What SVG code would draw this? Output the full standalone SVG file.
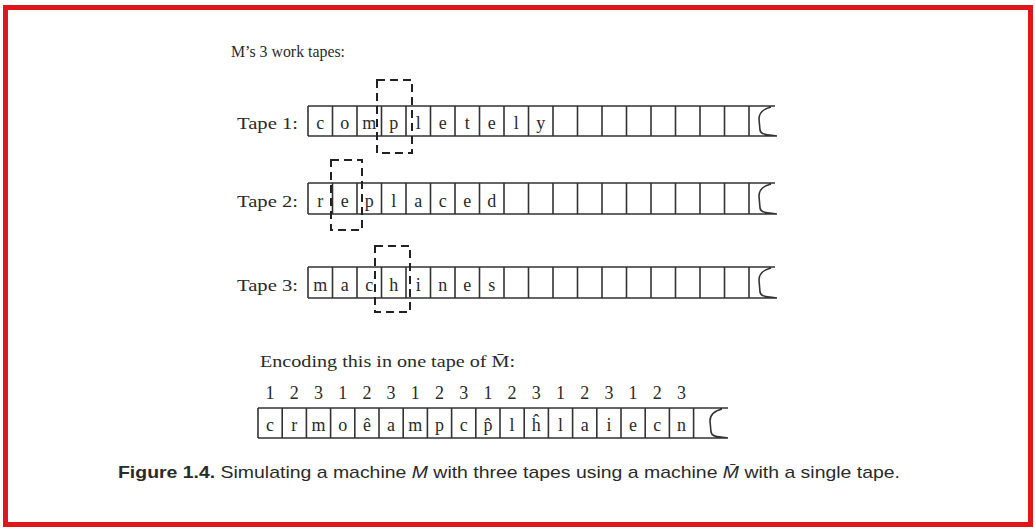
<svg xmlns="http://www.w3.org/2000/svg" width="1035" height="529" viewBox="0 0 1035 529">
<style>
.t{font-family:"Liberation Serif","Times New Roman",serif;font-size:17px;fill:#2a2a2a}
.c{font-family:"Liberation Serif","Times New Roman",serif;font-size:18px;fill:#2a2a2a;text-anchor:middle}
.tape{fill:none;stroke:#333;stroke-width:1.6}
.head{fill:none;stroke:#222;stroke-width:2;stroke-dasharray:8 5}
.cap{font-family:"Liberation Sans","Noto Sans",sans-serif;font-size:17px;fill:#2a2a2a}
</style>
<rect x="0" y="0" width="1035" height="529" fill="#fff"/>
<rect x="5.5" y="7.5" width="1025" height="517" fill="none" stroke="#e0161b" stroke-width="5"/>

<text class="t" x="231" y="57" textLength="114" lengthAdjust="spacingAndGlyphs">M’s 3 work tapes:</text>

<g id="tape1">
<text class="t" x="237" y="129" font-size="18" textLength="61" lengthAdjust="spacingAndGlyphs">Tape 1:</text>
<path class="tape" d="M308 106H775M308 136H777M308 106V136M332.5 106V136M357 106V136M381.5 106V136M406 106V136M430.5 106V136M455 106V136M479.5 106V136M504 106V136M528.5 106V136M553 106V136M577.5 106V136M602 106V136M626.5 106V136M651 106V136M675.5 106V136M700 106V136M724.5 106V136M749 106V136M771 107Q759 110 759 119L760 130Q761 135 770 135L777 136"/>
<g class="c"><text x="320.3" y="129">c</text><text x="344.8" y="129">o</text><text x="369.3" y="129">m</text><text x="393.8" y="129">p</text><text x="418.3" y="129">l</text><text x="442.8" y="129">e</text><text x="467.3" y="129">t</text><text x="491.8" y="129">e</text><text x="516.3" y="129">l</text><text x="540.8" y="129">y</text></g>
<rect class="head" x="377" y="80" width="35" height="73"/>
</g>

<g id="tape2">
<text class="t" x="237" y="207" font-size="18" textLength="61" lengthAdjust="spacingAndGlyphs">Tape 2:</text>
<path class="tape" d="M308 183H775M308 214H777M308 183V214M332.5 183V214M357 183V214M381.5 183V214M406 183V214M430.5 183V214M455 183V214M479.5 183V214M504 183V214M528.5 183V214M553 183V214M577.5 183V214M602 183V214M626.5 183V214M651 183V214M675.5 183V214M700 183V214M724.5 183V214M749 183V214M771 184Q759 187 759 196L760 208Q761 213 770 213L777 214"/>
<g class="c"><text x="320.3" y="207">r</text><text x="344.8" y="207">e</text><text x="369.3" y="207">p</text><text x="393.8" y="207">l</text><text x="418.3" y="207">a</text><text x="442.8" y="207">c</text><text x="467.3" y="207">e</text><text x="491.8" y="207">d</text></g>
<rect class="head" x="331" y="160" width="31" height="70"/>
</g>

<g id="tape3">
<text class="t" x="237" y="291" font-size="18" textLength="61" lengthAdjust="spacingAndGlyphs">Tape 3:</text>
<path class="tape" d="M308 267H775M308 298H777M308 267V298M332.5 267V298M357 267V298M381.5 267V298M406 267V298M430.5 267V298M455 267V298M479.5 267V298M504 267V298M528.5 267V298M553 267V298M577.5 267V298M602 267V298M626.5 267V298M651 267V298M675.5 267V298M700 267V298M724.5 267V298M749 267V298M771 268Q759 271 759 280L760 292Q761 297 770 297L777 298"/>
<g class="c"><text x="320.3" y="291">m</text><text x="344.8" y="291">a</text><text x="369.3" y="291">c</text><text x="393.8" y="291">h</text><text x="418.3" y="291">i</text><text x="442.8" y="291">n</text><text x="467.3" y="291">e</text><text x="491.8" y="291">s</text></g>
<rect class="head" x="375" y="246" width="35" height="66"/>
</g>

<g id="encoding">
<text class="t" x="260" y="367" font-size="18" textLength="255" lengthAdjust="spacingAndGlyphs">Encoding this in one tape of M̄:</text>
<g class="c">
<text x="270.1" y="399">1</text><text x="294.3" y="399">2</text><text x="318.5" y="399">3</text><text x="342.7" y="399">1</text><text x="366.9" y="399">2</text><text x="391.1" y="399">3</text><text x="415.3" y="399">1</text><text x="439.5" y="399">2</text><text x="463.7" y="399">3</text><text x="487.9" y="399">1</text><text x="512.1" y="399">2</text><text x="536.3" y="399">3</text><text x="560.5" y="399">1</text><text x="584.7" y="399">2</text><text x="608.9" y="399">3</text><text x="633.1" y="399">1</text><text x="657.3" y="399">2</text><text x="681.5" y="399">3</text>
</g>
<path class="tape" d="M258 408H728M258 438H728M258 408V438M282.2 408V438M306.4 408V438M330.6 408V438M354.8 408V438M379 408V438M403.2 408V438M427.4 408V438M451.6 408V438M475.8 408V438M500 408V438M524.2 408V438M548.4 408V438M572.6 408V438M596.8 408V438M621 408V438M645.2 408V438M669.4 408V438M693.6 408V438M722 409Q710 412 710 421L711 432Q712 437 721 437L728 438"/>
<g class="c">
<text x="270.1" y="431">c</text><text x="294.3" y="431">r</text><text x="318.5" y="431">m</text><text x="342.7" y="431">o</text><text x="366.9" y="431">ê</text><text x="391.1" y="431">a</text><text x="415.3" y="431">m</text><text x="439.5" y="431">p</text><text x="463.7" y="431">c</text><text x="487.9" y="431">p̂</text><text x="512.1" y="431">l</text><text x="536.3" y="431">ĥ</text><text x="560.5" y="431">l</text><text x="584.7" y="431">a</text><text x="608.9" y="431">i</text><text x="633.1" y="431">e</text><text x="657.3" y="431">c</text><text x="681.5" y="431">n</text>
</g>
</g>

<text class="cap" x="118" y="478" textLength="782" lengthAdjust="spacingAndGlyphs"><tspan font-weight="bold">Figure 1.4.</tspan>  Simulating a machine <tspan font-style="italic">M</tspan> with three tapes using a machine <tspan font-style="italic">M̄</tspan> with a single tape.</text>
</svg>
